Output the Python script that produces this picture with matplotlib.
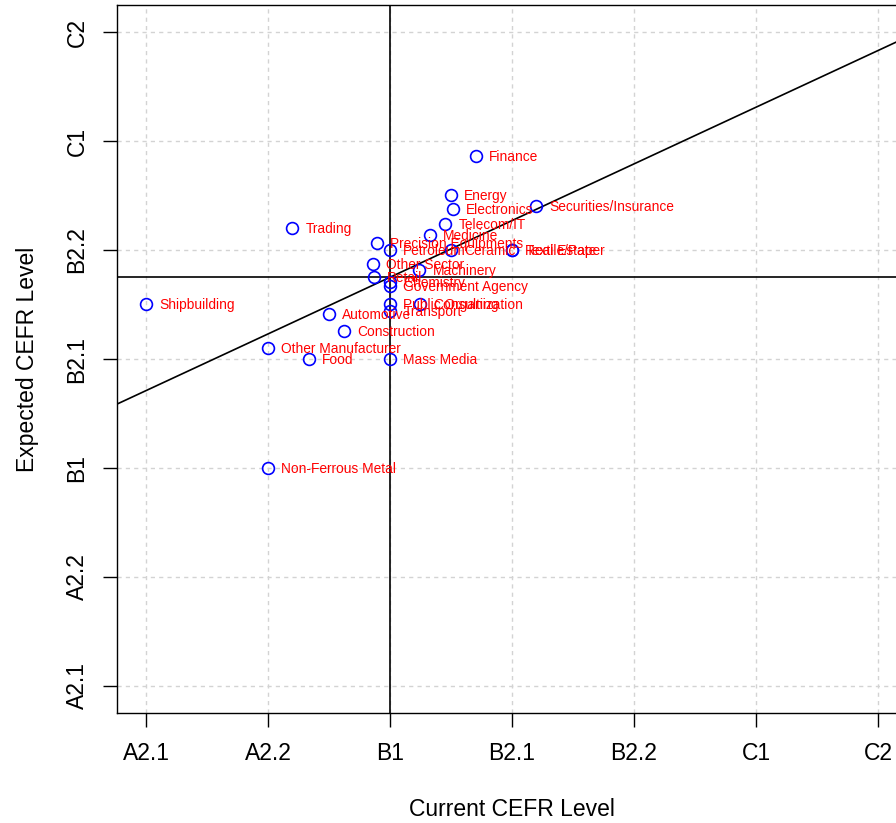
import matplotlib
matplotlib.use("Agg")
import matplotlib.pyplot as plt

plt.rcParams['font.family'] = ['Liberation Sans', 'DejaVu Sans']

# CEFR level tick labels (1 = A2.1 ... 7 = C2)
levels = ["A2.1", "A2.2", "B1", "B2.1", "B2.2", "C1", "C2"]

industries = [
    "Finance", "Energy", "Electronics", "Securities/Insurance", "Telecom/IT",
    "Trading", "Medicine", "Precision Equipments", "Petroleum", "Ceramic",
    "Real Estate", "Textile/Paper", "Other Sector", "Machinery", "Retail",
    "Chemistry", "Government Agency", "Public Organization", "Consulting",
    "Transport", "Shipbuilding", "Automotive", "Construction",
    "Other Manufacturer", "Food", "Mass Media", "Non-Ferrous Metal",
]
current_level = [
    3.705, 3.50, 3.516, 4.197, 3.451,
    2.197, 3.328, 2.893, 3.00, 3.50,
    4.00, 4.00, 2.861, 3.238, 2.869,
    3.00, 3.00, 3.00, 3.246,
    3.00, 1.00, 2.50, 2.623,
    2.00, 2.336, 3.00, 2.00,
]
expected_level = [
    5.862, 5.505, 5.376, 5.404, 5.239,
    5.202, 5.138, 5.064, 5.00, 5.00,
    5.00, 5.00, 4.872, 4.817, 4.752,
    4.706, 4.67, 4.505, 4.505,
    4.44, 4.505, 4.413, 4.257,
    4.10, 4.00, 4.00, 3.00,
]

mean_current = 3.0
mean_expected = 4.75
fit_intercept = 3.19
fit_slope = 0.52

W, H = 896, 823
fig = plt.figure(figsize=(W / 100, H / 100), dpi=100)
ax = fig.add_axes([117 / W, (H - 713) / H, 790 / W, 708 / H])

ticks = list(range(1, len(levels) + 1))
ax.set_xlim(0.762, 7.238)
ax.set_ylim(0.752, 7.248)

# grid
for t in ticks:
    ax.axvline(t, color='#d3d3d3', lw=1.0, ls=(0, (3, 3)), zorder=0)
    ax.axhline(t, color='#d3d3d3', lw=1.0, ls=(0, (3, 3)), zorder=0)

# mean lines and fit line
ax.axvline(mean_current, color='black', lw=1.2, zorder=1)
ax.axhline(mean_expected, color='black', lw=1.2, zorder=1)
ax.axline((0, fit_intercept), slope=fit_slope, color='black', lw=1.2, zorder=1)

ax.plot(current_level, expected_level, linestyle='none', marker='o',
        markersize=8.5, markerfacecolor='none', markeredgecolor='blue',
        markeredgewidth=1.2, zorder=3)

for name, x, y in zip(industries, current_level, expected_level):
    ax.annotate(name, (x, y), xytext=(9.6, -0.5), textcoords='offset points',
                ha='left', va='center', color='red', fontsize=9.9, zorder=4)

ax.set_xticks(ticks)
ax.set_xticklabels(levels)
ax.set_yticks(ticks)
ax.set_yticklabels(levels, rotation=90, va='center')
ax.tick_params(axis='both', direction='out', length=10, width=1.0,
               labelsize=16.5, colors='black')
ax.tick_params(axis='x', pad=11)
ax.tick_params(axis='y', pad=10.5)

for s in ax.spines.values():
    s.set_linewidth(1.0)
    s.set_color('black')

ax.set_xlabel("Current CEFR Level", fontsize=16.5)
ax.set_ylabel("Expected CEFR Level", fontsize=16.5)
ax.xaxis.set_label_coords(0.5, (713 - 809) / 708)
ax.xaxis.label.set_va('center')
ax.yaxis.set_label_coords((28 - 117) / 790, 0.5)
ax.yaxis.label.set_va('center')

fig.savefig("out.png", dpi=100)
